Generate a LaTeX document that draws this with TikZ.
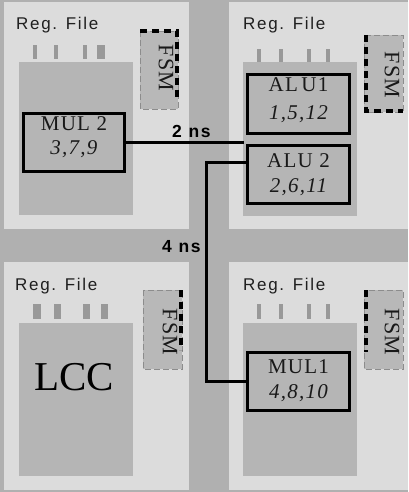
\documentclass[tikz,border=0pt]{standalone}
\usepackage{fontspec}
\setmainfont{Liberation Serif}
\newfontfamily\regfont[LetterSpace=10]{Liberation Sans}
\newfontfamily\boxfont[LetterSpace=6]{Liberation Serif}
\usetikzlibrary{calc}
\definecolor{stripc}{HTML}{B0B0B0}
\definecolor{tilec}{HTML}{DCDCDC}
\definecolor{blockc}{HTML}{B5B5B5}
\definecolor{pinc}{HTML}{999999}
\definecolor{fsmc}{HTML}{B8B8B8}
\definecolor{thinc}{HTML}{8C8C8C}
\tikzset{
  tile/.style={fill=tilec},
  block/.style={fill=blockc},
  pin/.style={fill=pinc},
  regtxt/.style={anchor=base west, inner sep=0, text=black!88, font=\regfont\fontsize{17}{20}\selectfont},
  nstxt/.style={anchor=base west, inner sep=0, text=black, font=\regfont\bfseries\fontsize{17.5}{20}\selectfont},
  unitbox/.style={draw=black, line width=3pt, inner sep=0, minimum width=102pt, minimum height=58pt},
  nametxt/.style={anchor=base, inner sep=0, text=black!90, font=\boxfont\fontsize{21}{24}\selectfont},
  numtxt/.style={anchor=base, inner sep=0, text=black!90, font=\boxfont\itshape\fontsize{21}{24}\selectfont},
  fsmbox/.style={fill=fsmc, draw=thinc, line width=0.9pt, dash pattern=on 6pt off 3pt},
  fsmthick/.style={draw=black, line width=3.5pt, dash pattern=on 7pt off 5pt},
  fsmtxt/.style={rotate=-90, inner sep=0, text=black!90, font=\boxfont\fontsize{22}{24}\selectfont},
  wire/.style={draw=black, line width=2.5pt}
}
\begin{document}
\begin{tikzpicture}[x=1pt,y=-1pt]
\useasboundingbox (0,0) rectangle (408,492);
\fill[stripc] (0,0) rectangle (408,492);
% tiles
\fill[tile] (4,2) rectangle (189,229);
\fill[tile] (229,2) rectangle (408,229);
\fill[tile] (4,262) rectangle (189,490);
\fill[tile] (229,262) rectangle (408,490);
% register file labels
\node[regtxt] (rf1) at (16,30) {Reg. File};
\node[regtxt] (rf2) at (243,30) {Reg. File};
\node[regtxt] (rf3) at (15,290) {Reg. File};
\node[regtxt] (rf4) at (243,290) {Reg. File};
% pins
\fill[pin] (33,45) rectangle (37,59);
\fill[pin] (54,45) rectangle (58,59);
\fill[pin] (83,45) rectangle (87,59);
\fill[pin] (97,45) rectangle (105,59);
\fill[pin] (257,49) rectangle (261,62);
\fill[pin] (279,49) rectangle (283,62);
\fill[pin] (307,49) rectangle (311,62);
\fill[pin] (326,49) rectangle (330,62);
\fill[pin] (33,304) rectangle (41,319);
\fill[pin] (54,304) rectangle (61,319);
\fill[pin] (83,304) rectangle (90,319);
\fill[pin] (101,304) rectangle (108,319);
\fill[pin] (257,304) rectangle (261,319);
\fill[pin] (279,304) rectangle (283,319);
\fill[pin] (307,304) rectangle (311,319);
\fill[pin] (326,304) rectangle (330,319);
% gray blocks
\fill[block] (19,62) rectangle (133,215);
\fill[block] (243,62) rectangle (357,216);
\fill[block] (19,323) rectangle (133,476);
\fill[block] (243,323) rectangle (357,476);
% FSMs
\draw[fsmbox] (140,31) rectangle (178,109);
\draw[fsmthick] (140,31) -- (177,31) -- (177,97);
\node[fsmtxt] (fsm1) at (166,68) {FSM};
\draw[fsmbox] (364,35) rectangle (403,112);
\draw[fsmthick] (366,35) -- (366,111) -- (403,111);
\node[fsmtxt] (fsm2) at (392,75) {FSM};
\draw[fsmbox] (143,290) rectangle (182,369);
\draw[fsmthick] (181,290) -- (181,350);
\node[fsmtxt] (fsm3) at (170,332) {FSM};
\draw[fsmbox] (364,290) rectangle (403,369);
\draw[fsmthick] (366,290) -- (366,352);
\node[fsmtxt] (fsm4) at (392,332) {FSM};
% LCC
\node[inner sep=0, text=black, font=\fontsize{41}{44}\selectfont] (lcc) at (74,377.5) {LCC};
% units
\node[unitbox, minimum width=101pt] (MUL2) at (74,142.5) {};
\node[unitbox, minimum height=59pt] (ALU1) at (298.5,104) {};
\node[unitbox] (ALU2) at (298.5,174.5) {};
\node[unitbox] (MUL1) at (298.5,381.5) {};
\node[nametxt] (t1) at (74,131) {MUL 2};
\node[numtxt] (n1) at (74,154) {3,7,9};
\node[nametxt] (t2) at (298.5,92) {AL\,U1};
\node[numtxt] (n2) at (298.5,119) {1,5,12};
\node[nametxt] (t3) at (298.5,167) {ALU 2};
\node[numtxt] (n3) at (298.5,192) {2,6,11};
\node[nametxt] (t4) at (298.5,373) {MUL1};
\node[numtxt] (n4) at (298.5,398) {4,8,10};
% connectors
\coordinate (c1) at (244,142.5);
\draw[wire] (MUL2.east) -- (c1);
\coordinate (a2) at ($(ALU2.north west)!0.3!(ALU2.south west)$);
\draw[wire] (a2) -- ++(-39.5,0) |- (MUL1.west);
\node[nstxt] (ns2) at (172,137) {2 ns};
\node[nstxt] (ns4) at (162,252) {4 ns};
\end{tikzpicture}
\end{document}
